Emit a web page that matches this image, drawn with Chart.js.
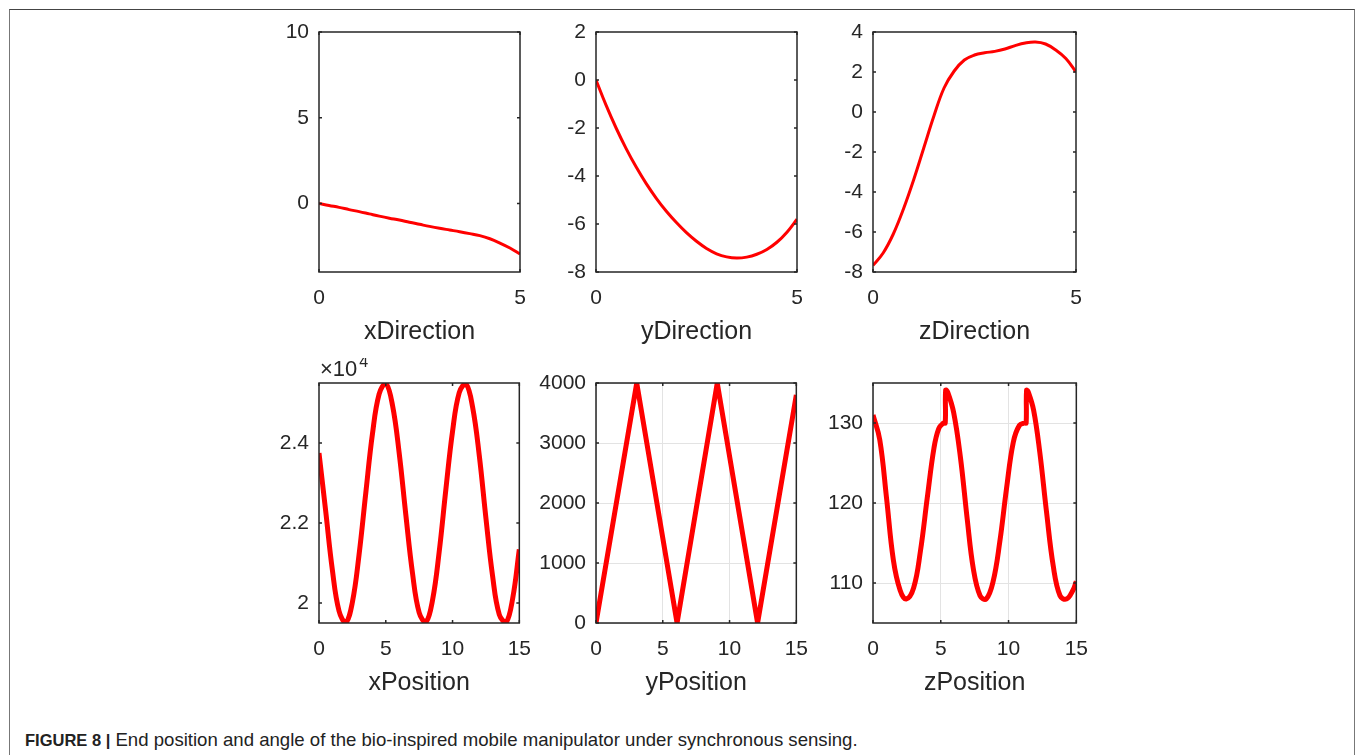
<!DOCTYPE html>
<html>
<head>
<meta charset="utf-8">
<script src="https://cdn.jsdelivr.net/npm/chart.js@4/dist/chart.umd.min.js"></script>
<style>
  html, body { margin:0; padding:0; background:#fff; }
  body { width:1355px; height:755px; position:relative; overflow:hidden; }
  #frame { position:absolute; left:9px; top:9px; width:1344px; height:800px;
           border-left:1px solid #777; border-right:1px solid #777; border-top:1px solid #444; }
  canvas { position:absolute; }
  #caption { position:absolute; left:25px; top:729px; font-family:"Liberation Sans",Arial,sans-serif;
             font-size:18.6px; line-height:22px; color:#222; white-space:nowrap; }
  #caption b { font-weight:bold; font-size:16.5px; }
</style>
</head>
<body>
<div id="frame"></div>
<canvas id="c1"></canvas><canvas id="c2"></canvas><canvas id="c3"></canvas>
<canvas id="c4"></canvas><canvas id="c5"></canvas><canvas id="c6"></canvas>
<div id="caption"><b>FIGURE 8 |</b> End position and angle of the bio-inspired mobile manipulator under synchronous sensing.</div>
<script>
// ---------- data ----------
const titles = ["xDirection","yDirection","zDirection","xPosition","yPosition","zPosition"];

const dirT = [0,0.25,0.5,0.75,1,1.25,1.5,1.75,2,2.25,2.5,2.75,3,3.25,3.5,3.75,4,4.25,4.5,4.75,5];
const xDirV = [0,-0.12,-0.23,-0.36,-0.48,-0.61,-0.74,-0.86,-0.97,-1.10,-1.22,-1.34,-1.45,-1.55,-1.65,-1.76,-1.88,-2.06,-2.31,-2.60,-2.95];
const yDirV = [0,-1.05,-2.0,-2.86,-3.63,-4.32,-4.93,-5.47,-5.94,-6.36,-6.72,-7.02,-7.24,-7.37,-7.42,-7.38,-7.26,-7.06,-6.76,-6.34,-5.8];
const zDirV = [-7.67,-7.05,-6.1,-4.85,-3.4,-1.8,-0.2,1.2,2.05,2.6,2.85,2.96,3.03,3.15,3.32,3.45,3.5,3.4,3.1,2.67,2.0];

const xPosT = [0,0.5,1,1.5,2,2.5,3,3.5,4,4.5,5,5.5,6,6.5,7,7.5,8,8.5,9,9.5,10,10.5,11,11.5,12,12.5,13,13.5,14,14.5,15];
const xPosV = [2.375,2.230,2.083,1.980,1.951,2.002,2.121,2.274,2.422,2.522,2.549,2.495,2.376,2.221,2.075,1.976,1.952,2.007,2.128,2.284,2.429,2.526,2.548,2.490,2.369,2.212,2.067,1.971,1.951,2.011,2.134];

const yPosT = [0,3.05,6.07,9.08,12.1,15];
const yPosV = [0,4000,0,4000,0,3800];

const zPosT = [0,0.5,1.0,1.5,2.0,2.45,3.0,3.5,4.0,4.5,4.85,5.2,5.33,5.36,5.5,5.95,6.45,6.95,7.4,7.9,8.35,8.85,9.35,9.85,10.35,10.8,11.2,11.3,11.33,11.45,11.85,12.3,12.8,13.3,13.8,14.27,14.75,15];
const zPosV = [131.0,127.9,120.6,112.9,109.1,108.0,109.4,114.0,120.6,126.9,129.3,130.0,130.0,134.1,133.9,131.3,125.7,118.0,111.8,108.4,108.0,110.1,115.1,121.8,127.6,129.7,130.0,130.0,134.1,133.9,131.6,126.4,118.9,112.1,108.4,108.0,109.1,110.2];

const dirXTicks = [0,5];
const posXTicks = [0,5,10,15];
const xDirYTicks = [0,5,10];
const yDirYTicks = [-8,-6,-4,-2,0,2];
const zDirYTicks = [-8,-6,-4,-2,0,2,4];
const xPosYTicks = [2,2.2,2.4];
const yPosYTicks = [0,1000,2000,3000,4000];
const zPosYTicks = [110,120,130];

// ---------- drawing ----------
const FONT = "'Liberation Sans', Arial, Helvetica, sans-serif";
const TXT = '#262626';
const L = 80, T = 25, R = 25, B = 80;

const boxPlugin = {
  id: 'box',
  afterDatasetsDraw(chart, args, o) {
    const {ctx, chartArea:{left,right,top,bottom}, scales:{x,y}} = chart;
    ctx.save();
    ctx.strokeStyle = TXT; ctx.lineWidth = 1.5; ctx.lineCap = 'butt';
    const tl = 3;
    ctx.beginPath();
    x.ticks.forEach(t => { const p = x.getPixelForValue(t.value);
      ctx.moveTo(p, bottom); ctx.lineTo(p, bottom - tl); ctx.moveTo(p, top); ctx.lineTo(p, top + tl); });
    y.ticks.forEach(t => { const p = y.getPixelForValue(t.value);
      ctx.moveTo(left, p); ctx.lineTo(left + tl, p); ctx.moveTo(right, p); ctx.lineTo(right - tl, p); });
    ctx.stroke();
    ctx.strokeRect(left, top, right - left, bottom - top);
    ctx.fillStyle = TXT; ctx.textAlign = 'center'; ctx.textBaseline = 'middle';
    ctx.font = '25px ' + FONT;
    ctx.fillText(o.title, (left + right) / 2, bottom + 60);
    if (o.exponent) {
      ctx.textAlign = 'left'; ctx.textBaseline = 'alphabetic';
      ctx.font = '22px ' + FONT;
      ctx.fillText('\u00d710', left + 1, top - 7);
      const w = ctx.measureText('\u00d710').width;
      ctx.font = '16px ' + FONT;
      ctx.fillText(o.exponent, left + 3 + w, top - 16);
    }
    ctx.restore();
  }
};

function makeChart(id, box, xs, ys, xr, yr, xTicks, yTicks, lw, smooth, grid, title, exponent) {
  const cv = document.getElementById(id);
  cv.width = L + box.w + R; cv.height = T + box.h + B;
  cv.style.left = (box.l - L) + 'px'; cv.style.top = (box.t - T) + 'px';
  const data = xs.map((v, i) => ({x: v, y: ys[i]}));
  new Chart(cv, {
    type: 'line',
    data: { datasets: [{ data, borderColor: '#ff0000', borderWidth: lw, pointRadius: 0,
      tension: smooth ? 0.4 : 0, borderJoinStyle: 'round', fill: false }] },
    options: {
      responsive: false, animation: false, devicePixelRatio: 1, events: [],
      layout: { padding: { top: T, right: R, left: 0, bottom: 0 } },
      plugins: { legend: { display: false }, tooltip: { enabled: false }, box: { title, exponent } },
      scales: {
        x: { type: 'linear', min: xr[0], max: xr[1],
          afterBuildTicks: a => { a.ticks = xTicks.map(v => ({value: v})); },
          afterFit: s => { s.height = B; },
          grid: { display: grid, drawTicks: false, color: '#e3e3e3', lineWidth: 1 },
          border: { display: false },
          ticks: { padding: 14, color: TXT, font: { family: FONT, size: 21 }, maxRotation: 0, callback: v => String(v) } },
        y: { type: 'linear', min: yr[0], max: yr[1],
          afterBuildTicks: a => { a.ticks = yTicks.map(v => ({value: v})); },
          afterFit: s => { s.width = L; },
          grid: { display: grid, drawTicks: false, color: '#e3e3e3', lineWidth: 1 },
          border: { display: false },
          ticks: { padding: 10, color: TXT, font: { family: FONT, size: 21 }, callback: v => String(v) } }
      }
    },
    plugins: [boxPlugin]
  });
}

const r1 = 32, r2 = 383, H = 240;
makeChart('c1', {l:319, t:r1, w:201, h:H}, dirT, xDirV, [0,5], [-4,10], dirXTicks, xDirYTicks, 3, true, false, titles[0]);
makeChart('c2', {l:596, t:r1, w:201, h:H}, dirT, yDirV, [0,5], [-8,2], dirXTicks, yDirYTicks, 3, true, false, titles[1]);
makeChart('c3', {l:873, t:r1, w:203, h:H}, dirT, zDirV, [0,5], [-8,4], dirXTicks, zDirYTicks, 3, true, false, titles[2]);
makeChart('c4', {l:319, t:r2, w:201, h:H}, xPosT, xPosV, [0,15], [1.95,2.55], posXTicks, xPosYTicks, 5, true, false, titles[3], '4');
makeChart('c5', {l:596, t:r2, w:201, h:H}, yPosT, yPosV, [0,15], [0,4000], posXTicks, yPosYTicks, 5, false, true, titles[4]);
makeChart('c6', {l:873, t:r2, w:204, h:H}, zPosT, zPosV, [0,15], [105,135], posXTicks, zPosYTicks, 5, true, true, titles[5]);
</script>
</body>
</html>
